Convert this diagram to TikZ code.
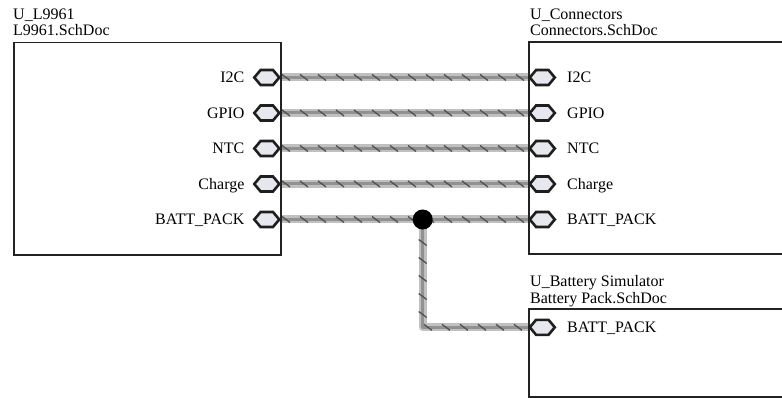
\documentclass[tikz,border=0pt]{standalone}
\usepackage{fontspec}
\setmainfont{Liberation Serif}
\usetikzlibrary{shapes.symbols,decorations.markings,positioning,backgrounds}
\definecolor{sheetline}{RGB}{35,35,35}
\definecolor{portfill}{RGB}{230,232,238}
\definecolor{buslight}{RGB}{192,192,192}
\definecolor{busmid}{RGB}{145,145,145}
\definecolor{bustick}{RGB}{80,80,80}
\tikzset{
    sheet/.style={draw=sheetline, line width=1.8pt},
    port/.style={shape=signal, signal to=east and west, signal pointer angle=100,
        draw=black!88, fill=portfill, line width=2.6pt,
        minimum width=25pt, minimum height=15pt, inner sep=0pt},
    portlabel/.style={font=\fontsize{16}{18}\selectfont, inner sep=0pt,
        text height=10.5pt, text depth=0pt},
    sheetlabel/.style={font=\fontsize{16}{18}\selectfont, inner sep=0pt, anchor=base west},
    junction/.style={circle, fill=black, minimum size=20pt, inner sep=0pt},
    bus/.style={line width=8pt, draw=buslight, line join=round,
        postaction={draw=busmid, line width=3pt},
        postaction={decorate, decoration={markings,
            mark=between positions 5pt and -3pt step 18pt with
            {\pgftransformresetnontranslations
             \draw[bustick, line width=1.3pt] (-4pt,3pt) -- (4pt,-3pt);}}}}
}

\begin{document}
\begin{tikzpicture}[x=1pt, y=-1pt]
    \useasboundingbox (0,0) rectangle (782,398);

    % Sheet symbols
    \node[sheet, rectangle, minimum width=267pt, minimum height=212.6pt,
        anchor=north west, inner sep=0pt] (sL) at (13.3,41.7) {};
    \draw[sheet] (782,41.7) -| (529.3,254.3) -- (782,254.3);
    \draw[sheet] (782,308.7) -| (529.3,396.7) -- (782,396.7);

    \node[sheetlabel] (tL1) at (13,20) {U\_L9961};
    \node[sheetlabel] (tL2) at (13,36) {L9961.SchDoc};
    \node[sheetlabel] (tC1) at (530,20) {U\_Connectors};
    \node[sheetlabel] (tC2) at (530,36) {Connectors.SchDoc};
    \node[sheetlabel] (tB1) at (530,286.5) {U\_Battery Simulator};
    \node[sheetlabel] (tB2) at (530,303) {Battery Pack.SchDoc};

    % Sheet entries and buses
    \foreach \lbl [count=\i] in {I2C,GPIO,NTC,Charge,BATT\_PACK} {
        \node[port] (pL\i) at (266.8,{77.5+35.5*(\i-1)}) {};
        \node[port] (pR\i) at (542.3,{77.5+35.5*(\i-1)}) {};
        \node[portlabel, left=8pt of pL\i] (lL\i) {\lbl};
        \node[portlabel, right=10.5pt of pR\i] (lR\i) {\lbl};
        \begin{scope}[on background layer]
            \draw[bus] (pL\i.east) -- (pR\i.west);
        \end{scope}
    }

    % Battery simulator branch
    \node[port] (pB) at (542.3,327.3) {};
    \node[portlabel, right=10.5pt of pB] (lB) {BATT\_PACK};
    \node[junction] (jct) at (422.7,219.5) {};
    \begin{scope}[on background layer]
        \draw[bus] (jct.center) |- (pB.west);
    \end{scope}
\end{tikzpicture}
\end{document}
